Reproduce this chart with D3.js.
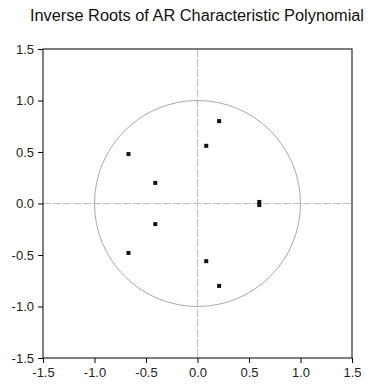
<!DOCTYPE html>
<html>
<head>
<meta charset="utf-8">
<script src="https://cdn.jsdelivr.net/npm/d3@7"></script>
<style>
  body { margin: 0; background: #fff; }
  text { font-family: "Liberation Sans", Arial, sans-serif; }
</style>
</head>
<body>
<div id="chart"></div>
<script>
const title = "Inverse Roots of AR Characteristic Polynomial";
const tickValues = [-1.5, -1.0, -0.5, 0.0, 0.5, 1.0, 1.5];
// inverse roots: real and imaginary parts
const rootsRe = [0.21, 0.21, 0.085, 0.085, -0.67, -0.67, -0.41, -0.41, 0.60, 0.60];
const rootsIm = [0.80, -0.80, 0.56, -0.56, 0.48, -0.48, 0.20, -0.20, 0.015, -0.015];

const width = 374, height = 389;
const margin = { left: 43, right: 22, top: 49, bottom: 31 };

const svg = d3.select("#chart").append("svg")
  .attr("width", width)
  .attr("height", height);

const x = d3.scaleLinear().domain([-1.5, 1.5]).range([margin.left, width - margin.right]);
const y = d3.scaleLinear().domain([-1.5, 1.5]).range([height - margin.bottom, margin.top]);

svg.append("text")
  .attr("x", 197)
  .attr("y", 21)
  .attr("text-anchor", "middle")
  .attr("font-size", 16)
  .attr("textLength", 334)
  .attr("lengthAdjust", "spacingAndGlyphs")
  .attr("fill", "#111")
  .text(title);

// zero lines
svg.append("line")
  .attr("x1", x(0)).attr("x2", x(0))
  .attr("y1", y(1.5)).attr("y2", y(-1.5))
  .attr("stroke", "#c0c0c0").attr("stroke-dasharray", "8,2");
svg.append("line")
  .attr("x1", x(-1.5)).attr("x2", x(1.5))
  .attr("y1", y(0)).attr("y2", y(0))
  .attr("stroke", "#c0c0c0").attr("stroke-dasharray", "8,2");

// unit circle
svg.append("circle")
  .attr("cx", x(0)).attr("cy", y(0))
  .attr("r", x(1) - x(0))
  .attr("fill", "none")
  .attr("stroke", "#aaa");

// frame
svg.append("rect")
  .attr("x", x(-1.5)).attr("y", y(1.5))
  .attr("width", x(1.5) - x(-1.5))
  .attr("height", y(-1.5) - y(1.5))
  .attr("fill", "none")
  .attr("stroke", "#000");

const fmt = d => d3.format(".1f")(d).replace("\u2212", "-");

const xAxis = svg.append("g")
  .attr("transform", `translate(0,${y(-1.5)})`)
  .call(d3.axisBottom(x).tickValues(tickValues).tickFormat(fmt).tickSize(5).tickSizeOuter(0));
const yAxis = svg.append("g")
  .attr("transform", `translate(${x(-1.5)},0)`)
  .call(d3.axisLeft(y).tickValues(tickValues).tickFormat(fmt).tickSize(5).tickSizeOuter(0));

[xAxis, yAxis].forEach(g => {
  g.select(".domain").remove();
  g.selectAll("line").attr("stroke", "#000");
  g.selectAll("text")
    .attr("font-size", 13)
    .attr("fill", "#222")
    .style("font-family", "'Liberation Sans', Arial, sans-serif");
});
xAxis.selectAll("text").attr("dy", "0.95em").attr("y", 7);
yAxis.selectAll("text").attr("x", -9);

// roots
svg.append("g")
  .selectAll("rect")
  .data(d3.range(rootsRe.length))
  .join("rect")
  .attr("x", i => x(rootsRe[i]) - 2)
  .attr("y", i => y(rootsIm[i]) - 2)
  .attr("width", 4)
  .attr("height", 4)
  .attr("fill", "#111");
</script>
</body>
</html>
